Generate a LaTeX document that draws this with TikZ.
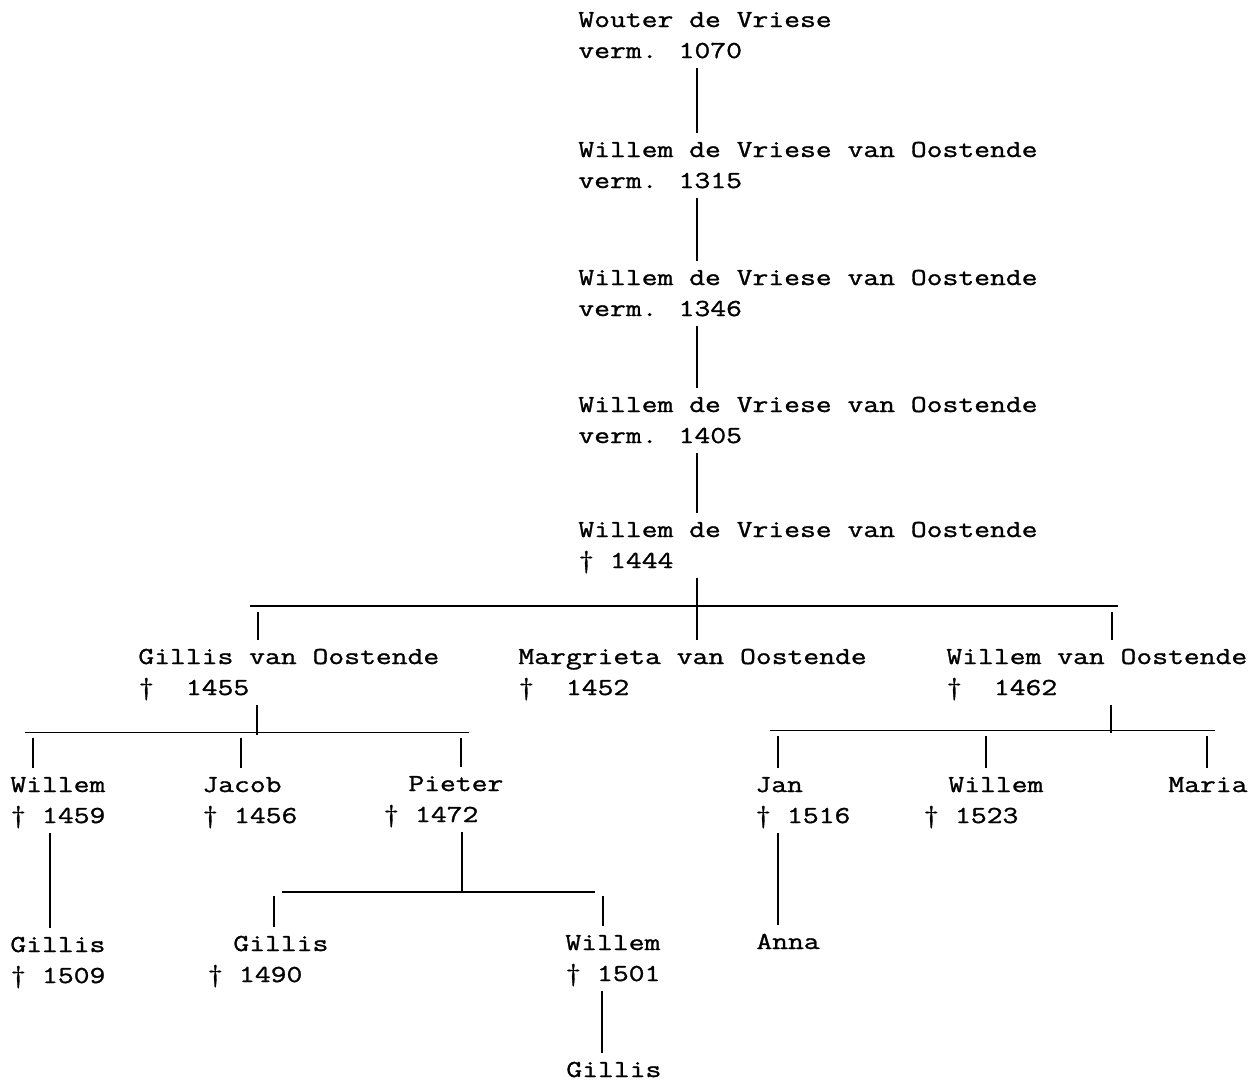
\documentclass[tikz,border=0pt]{standalone}
\usepackage{fontspec}
\newfontfamily\treefont[FakeStretch=1.26,FakeBold=1.2]{Latin Modern Mono}
\begin{document}
\begin{tikzpicture}[x=0.5pt, y=-0.5pt,
  every node/.style={anchor=base west, align=left, inner xsep=0pt, inner ysep=3pt,
    text height=24.5pt, text depth=2pt, font={\treefont\fontsize{12.2pt}{15.5pt}\selectfont}},
  single/.style={text height=9pt},
  link/.style={line width=0.9pt}]
  \useasboundingbox (0,0) rectangle (1254,1083);
  % main line
  \node (w1070) at (578,58) {Wouter de Vriese\\verm. 1070};
  \node (w1315) at (578,188) {Willem de Vriese van Oostende\\verm. 1315};
  \node (w1346) at (578,316) {Willem de Vriese van Oostende\\verm. 1346};
  \node (w1405) at (578,443) {Willem de Vriese van Oostende\\verm. 1405};
  \node (w1444) at (578,568) {Willem de Vriese van Oostende\\† 1444};
  % children of Willem (+1444)
  \node (gvo) at (138,695) {Gillis van Oostende\\†~~1455};
  \node (mvo) at (518,695) {Margrieta van Oostende\\†~~1452};
  \node (wvo) at (946,695) {Willem van Oostende\\†~~1462};
  % grandchildren
  \node (w1459) at (10,823) {Willem\\† 1459};
  \node (j1456) at (202,823) {Jacob\\† 1456};
  \node (p1472) at (383,822) {\hspace*{12.5pt}Pieter\\† 1472};
  \node (j1516) at (755,823) {Jan\\† 1516};
  \node (w1523) at (923,823) {\hspace*{12.5pt}Willem\\† 1523};
  \node[single] (maria) at (1168,792) {Maria};
  % next generations
  \node (g1509) at (10,983) {Gillis\\† 1509};
  \node (g1490) at (207,982) {\hspace*{13pt}Gillis\\† 1490};
  \node (w1501) at (565,981) {Willem\\† 1501};
  \node[single] (anna) at (756,949) {Anna};
  \node[single] (g1501) at (566,1077) {Gillis};
  % trunk
  \coordinate (trunk) at (697,0);
  \foreach \a/\b in {w1070/w1315, w1315/w1346, w1346/w1405, w1405/w1444, w1444/mvo}
    \draw[link] (\a.south -| trunk) -- (\b.north -| trunk);
  % first split
  \coordinate (b0w) at (250,606);
  \coordinate (b0e) at (1118,606);
  \draw[link] (b0w) -- (b0e);
  \foreach \x/\n in {258/gvo, 1112/wvo} {
    \coordinate (d0\n) at (\x,612);
    \draw[link] (d0\n) -- (d0\n |- \n.north);
  }
  % family of Gillis
  \coordinate (j1) at (257,735);
  \draw[link] (gvo.south -| j1) -- (j1);
  \coordinate (b1w) at (25,732.5);
  \coordinate (b1e) at (469,732.5);
  \draw[link] (b1w) -- (b1e);
  \foreach \x/\n in {33/w1459, 241/j1456, 461/p1472} {
    \coordinate (d1\n) at (\x,738);
    \draw[link] (d1\n) -- (d1\n |- \n.north);
  }
  % family of Willem van Oostende
  \coordinate (j2) at (1111,733);
  \draw[link] (wvo.south -| j2) -- (j2);
  \coordinate (b2w) at (770,730.5);
  \coordinate (b2e) at (1215,730.5);
  \draw[link] (b2w) -- (b2e);
  \foreach \x/\n in {778/j1516, 986/w1523, 1207/maria} {
    \coordinate (d2\n) at (\x,736);
    \draw[link] (d2\n) -- (d2\n |- \n.north);
  }
  % family of Pieter
  \coordinate (j3) at (462,892);
  \draw[link] (p1472.south -| j3) -- (j3);
  \coordinate (b3w) at (282,892);
  \coordinate (b3e) at (595,892);
  \draw[link] (b3w) -- (b3e);
  \foreach \x/\n in {274/g1490, 603/w1501} {
    \coordinate (d3\n) at (\x,896);
    \draw[link] (d3\n) -- (d3\n |- \n.north);
  }
  % single lines
  \coordinate (t1) at (50,0);
  \coordinate (t2) at (778,0);
  \coordinate (t3) at (602,0);
  \draw[link] (w1459.south -| t1) -- (g1509.north -| t1);
  \draw[link] (j1516.south -| t2) -- (anna.north -| t2);
  \draw[link] (w1501.south -| t3) -- (g1501.north -| t3);
\end{tikzpicture}
\end{document}
